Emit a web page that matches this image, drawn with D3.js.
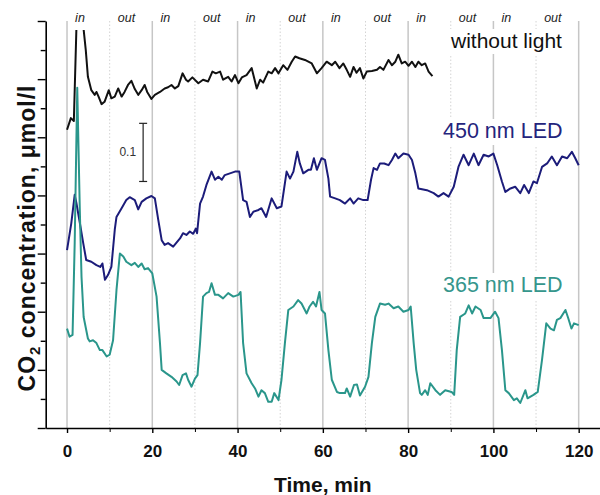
<!DOCTYPE html>
<html>
<head>
<meta charset="utf-8">
<script src="https://cdn.jsdelivr.net/npm/d3@7"></script>
<style>
  body { margin: 0; background: #fff; }
  svg { font-family: "Liberation Sans", Arial, sans-serif; }
</style>
</head>
<body>
<svg id="chart" width="600" height="495"></svg>
<script>
// CO2 concentration vs time, three runs (values in umol/l, curves offset)

// without light
const tDark = [0, 0.9, 1.6, 2.4, 3.0, 3.6, 3.9, 4.4, 4.9, 5.7, 6.5, 6.9, 7.4, 8.1, 8.8, 9.8, 10.4, 11.2, 12.0, 12.8,
  13.5, 14.3, 15.1, 15.9, 16.7, 17.5, 18.2, 18.8, 19.8, 20.6, 21.8, 22.9, 23.7, 24.5, 25.3, 26.1, 27.1, 27.9, 28.4, 29.4,
  30.8, 31.9, 33.1, 34.1, 34.9, 35.9, 36.6, 37.8, 38.6, 39.4, 40.2, 41.0, 42.1, 43.3, 44.5, 45.3, 46.0, 47.2, 48.0, 48.8,
  49.6, 50.7, 51.7, 52.7, 53.5, 54.5, 55.8, 57.4, 58.6, 59.7, 60.9, 62.1, 62.9, 63.9, 64.8, 65.6, 66.4, 67.2, 67.9, 68.7,
  69.5, 70.3, 71.5, 72.7, 73.4, 74.2, 75.4, 76.2, 77.0, 77.7, 78.5, 79.3, 80.1, 80.9, 81.7, 82.4, 83.2, 84.0, 84.8, 85.7];
const cDark = [0.513, 0.533, 0.528, 0.74, 0.80, 0.74, 0.685, 0.650, 0.604, 0.581, 0.573, 0.578, 0.570, 0.557, 0.561, 0.581, 0.567, 0.570, 0.584, 0.570,
  0.578, 0.590, 0.597, 0.583, 0.573, 0.581, 0.590, 0.578, 0.566, 0.573, 0.578, 0.584, 0.586, 0.590, 0.584, 0.588, 0.610, 0.599, 0.596, 0.603,
  0.593, 0.599, 0.596, 0.613, 0.610, 0.613, 0.599, 0.604, 0.596, 0.607, 0.593, 0.603, 0.607, 0.619, 0.584, 0.599, 0.594, 0.613, 0.610, 0.619,
  0.610, 0.624, 0.616, 0.630, 0.639, 0.636, 0.633, 0.627, 0.610, 0.619, 0.630, 0.624, 0.630, 0.619, 0.627, 0.616, 0.604, 0.621, 0.611, 0.619,
  0.601, 0.613, 0.614, 0.616, 0.621, 0.616, 0.633, 0.624, 0.630, 0.642, 0.627, 0.630, 0.623, 0.630, 0.621, 0.630, 0.624, 0.627, 0.613, 0.605];

// 450 nm LED
const tBlue = [0, 1.0, 1.8, 2.2, 3.0, 3.8, 4.5, 5.7, 6.9, 7.8, 8.3, 8.9, 9.6, 10.4, 11.2, 11.6, 12.8, 13.9, 14.7, 15.9,
  16.7, 17.5, 18.6, 19.8, 20.6, 21.4, 22.2, 22.9, 23.7, 24.9, 26.5, 27.2, 28.0, 28.8, 29.6, 30.2, 30.5, 31.2, 31.9, 32.7,
  33.9, 34.7, 35.5, 36.3, 37.0, 38.2, 39.4, 40.4, 41.3, 42.1, 42.9, 43.7, 44.9, 45.6, 46.7, 48.0, 49.2, 50.3, 51.5, 52.3,
  53.1, 54.0, 54.6, 55.4, 56.6, 57.2, 57.9, 58.6, 59.7, 60.5, 61.3, 61.7, 62.9, 64.0, 65.2, 66.4, 67.2, 68.3, 69.5, 70.5,
  71.3, 71.9, 72.7, 73.4, 74.4, 75.4, 76.2, 77.0, 77.7, 78.9, 80.1, 80.9, 81.7, 82.4, 84.4, 86.0, 87.1, 88.3, 89.5, 90.7,
  91.8, 93.0, 94.2, 95.4, 96.5, 97.7, 98.9, 100.0, 100.9, 102.0, 102.8, 104.0, 105.1, 106.3, 107.2, 108.3, 109.4, 110.2, 111.4, 112.6,
  113.7, 114.9, 116.1, 117.3, 118.4, 119.2, 120.0];
const cBlue = [0.306, 0.352, 0.401, 0.387, 0.353, 0.318, 0.289, 0.286, 0.280, 0.277, 0.283, 0.255, 0.263, 0.277, 0.341, 0.363, 0.378, 0.392, 0.397, 0.392,
  0.376, 0.389, 0.395, 0.399, 0.395, 0.358, 0.323, 0.315, 0.318, 0.312, 0.326, 0.335, 0.332, 0.338, 0.334, 0.343, 0.335, 0.386, 0.398, 0.418,
  0.441, 0.427, 0.432, 0.427, 0.435, 0.438, 0.441, 0.441, 0.392, 0.389, 0.363, 0.372, 0.375, 0.378, 0.363, 0.395, 0.378, 0.381, 0.441, 0.429,
  0.441, 0.475, 0.455, 0.438, 0.444, 0.444, 0.464, 0.444, 0.464, 0.461, 0.429, 0.398, 0.395, 0.392, 0.386, 0.395, 0.386, 0.395, 0.392, 0.392,
  0.427, 0.447, 0.444, 0.455, 0.455, 0.452, 0.461, 0.472, 0.464, 0.472, 0.470, 0.461, 0.438, 0.412, 0.409, 0.404, 0.398, 0.404, 0.398, 0.415,
  0.449, 0.470, 0.452, 0.472, 0.452, 0.470, 0.467, 0.472, 0.452, 0.424, 0.406, 0.412, 0.415, 0.404, 0.418, 0.404, 0.424, 0.421, 0.449, 0.455,
  0.467, 0.452, 0.467, 0.464, 0.475, 0.464, 0.452];

// 365 nm LED
const tTeal = [0, 0.6, 1.3, 1.8, 2.4, 3.0, 3.4, 3.9, 4.9, 5.3, 6.1, 6.9, 7.7, 8.3, 9.3, 10.0, 10.8, 11.6, 12.4, 13.2,
  13.9, 15.1, 15.9, 16.7, 17.5, 18.2, 19.0, 20.0, 21.0, 21.8, 22.2, 23.3, 24.5, 25.7, 26.3, 27.1, 27.9, 28.4, 29.2, 30.0,
  30.6, 31.2, 31.9, 32.7, 33.3, 33.9, 34.7, 35.5, 36.6, 37.8, 39.0, 40.2, 40.7, 41.3, 42.1, 43.3, 44.1, 44.9, 45.6, 46.4,
  47.2, 48.0, 48.6, 49.6, 50.3, 51.1, 51.9, 53.1, 54.2, 55.0, 56.2, 56.9, 57.7, 58.4, 59.2, 59.7, 60.5, 61.3, 62.1, 63.3,
  64.0, 65.2, 65.6, 66.4, 67.3, 68.0, 68.7, 69.9, 70.7, 71.5, 72.3, 73.4, 74.6, 75.4, 76.6, 77.7, 78.9, 80.1, 80.6, 81.3,
  81.9, 82.8, 83.2, 84.0, 84.6, 85.2, 86.4, 87.5, 88.7, 90.2, 90.8, 91.4, 92.2, 93.4, 94.2, 95.0, 95.8, 97.0, 97.7, 99.3,
  100.4, 101.2, 102.0, 102.8, 103.6, 104.8, 105.5, 106.3, 107.5, 108.0, 109.4, 110.4, 111.4, 112.4, 113.4, 114.2, 114.9, 115.7, 116.9, 117.5,
  118.3, 118.9, 120.0];
const cTeal = [0.171, 0.157, 0.160, 0.318, 0.585, 0.375, 0.260, 0.191, 0.154, 0.149, 0.151, 0.146, 0.134, 0.134, 0.123, 0.126, 0.151, 0.237, 0.300, 0.295,
  0.286, 0.280, 0.284, 0.277, 0.283, 0.273, 0.275, 0.266, 0.226, 0.146, 0.100, 0.094, 0.088, 0.080, 0.074, 0.091, 0.094, 0.083, 0.071, 0.085,
  0.091, 0.146, 0.226, 0.232, 0.234, 0.249, 0.229, 0.229, 0.223, 0.232, 0.226, 0.229, 0.234, 0.146, 0.094, 0.077, 0.068, 0.054, 0.065, 0.060,
  0.045, 0.045, 0.060, 0.048, 0.083, 0.146, 0.203, 0.209, 0.220, 0.214, 0.197, 0.209, 0.217, 0.209, 0.234, 0.203, 0.197, 0.134, 0.083, 0.062,
  0.060, 0.060, 0.068, 0.054, 0.074, 0.075, 0.056, 0.071, 0.088, 0.146, 0.191, 0.214, 0.212, 0.214, 0.206, 0.209, 0.200, 0.203, 0.209, 0.146,
  0.100, 0.060, 0.057, 0.065, 0.057, 0.077, 0.065, 0.057, 0.065, 0.062, 0.057, 0.134, 0.191, 0.197, 0.211, 0.197, 0.209, 0.203, 0.189, 0.189,
  0.200, 0.189, 0.134, 0.065, 0.060, 0.048, 0.051, 0.043, 0.065, 0.051, 0.057, 0.062, 0.117, 0.180, 0.171, 0.168, 0.186, 0.189, 0.203, 0.190,
  0.171, 0.180, 0.177];

// light on/off phases, 10 min each
const phaseStarts = [0, 10, 20, 30, 40, 50, 60, 70, 80, 90, 100, 110];
const phaseNames = ["in", "out", "in", "out", "in", "out", "in", "out", "in", "out", "in", "out"];

const xTicks = [0, 20, 40, 60, 80, 100, 120];

const svg = d3.select("#chart");

const x = d3.scaleLinear().domain([-5, 125]).range([45.7, 600]);
const y = d3.scaleLinear().domain([0, 0.7]).range([428, 21]);

svg.append("defs").append("clipPath").attr("id", "plotclip")
  .append("rect")
  .attr("x", x(-5)).attr("y", y(0.7))
  .attr("width", x(125) - x(-5)).attr("height", y(0) - y(0.7));

// vertical grid lines at the phase borders
svg.append("g")
  .selectAll("line")
  .data(d3.range(0, 121, 10))
  .enter()
  .append("line")
  .attr("x1", (d) => x(d)).attr("x2", (d) => x(d))
  .attr("y1", y(0.7)).attr("y2", y(0))
  .attr("stroke", (d) => (d % 20 === 0 ? "#c6c6c6" : "#d4d4d4"))
  .attr("stroke-width", (d) => (d % 20 === 0 ? 1.5 : 1))
  .attr("stroke-dasharray", (d) => (d % 20 === 0 ? null : "1.5,2"));

// curves
const line = d3.line().x((d) => x(d[0])).y((d) => y(d[1]));
const series = [
  { t: tDark, c: cDark, color: "#111111" },
  { t: tBlue, c: cBlue, color: "#1c1c7a" },
  { t: tTeal, c: cTeal, color: "#2a968b" },
];
const plot = svg.append("g").attr("clip-path", "url(#plotclip)");
series.forEach((s) => {
  plot.append("path")
    .datum(d3.zip(s.t, s.c))
    .attr("fill", "none")
    .attr("stroke", s.color)
    .attr("stroke-width", 2)
    .attr("stroke-linejoin", "round")
    .attr("d", line);
});

// text with a white box behind it
function boxedText(g, px, py, str, size, color, style) {
  const grp = g.append("g");
  const txt = grp.append("text")
    .attr("x", px).attr("y", py)
    .attr("font-size", size)
    .attr("font-style", style || "normal")
    .attr("fill", color)
    .text(str);
  const bb = txt.node().getBBox();
  grp.insert("rect", "text")
    .attr("x", bb.x - 2).attr("y", bb.y)
    .attr("width", bb.width + 4).attr("height", bb.height + 2)
    .attr("fill", "#fff");
  return grp;
}

const labels = svg.append("g");
phaseStarts.forEach((p, i) => {
  const g = boxedText(labels, x(p + 1.9), 22, phaseNames[i], 12.5, "#222", "italic");
  g.select("rect").attr("y", 9).attr("height", 21);
});

boxedText(labels, 451, 48, "without light", 21, "#111");
boxedText(labels, 443, 138, "450 nm LED", 21.5, "#24247c");
boxedText(labels, 443, 292, "365 nm LED", 21.5, "#35968c");

// 0.1 scale bar
const barT = 17.85;
const bar = svg.append("g").attr("stroke", "#222").attr("stroke-width", 1.2);
bar.append("line").attr("x1", x(barT)).attr("x2", x(barT)).attr("y1", y(0.524)).attr("y2", y(0.424));
[0.524, 0.424].forEach((v) => {
  bar.append("line").attr("x1", x(barT) - 4).attr("x2", x(barT) + 4).attr("y1", y(v)).attr("y2", y(v));
});
svg.append("text")
  .attr("x", x(barT) - 7).attr("y", y(0.474) + 4)
  .attr("text-anchor", "end")
  .attr("font-size", 12)
  .attr("fill", "#333")
  .text("0.1");

// axes
const xAxisMinor = d3.axisBottom(x).tickValues([10, 30, 50, 70, 90, 110]).tickSize(4).tickFormat("");
const xAxis = d3.axisBottom(x).tickValues(xTicks).tickSize(5).tickSizeOuter(0).tickPadding(12);
svg.append("g").attr("transform", `translate(0,${y(0)})`).call(xAxisMinor)
  .call((g) => g.select(".domain").remove());
const gx = svg.append("g").attr("transform", `translate(0,${y(0)})`).call(xAxis);
gx.select(".domain").attr("stroke-width", 1.6);
gx.selectAll(".tick line").attr("stroke-width", 1.4);
gx.selectAll("text")
  .attr("font-family", "Liberation Sans, Arial, sans-serif")
  .attr("font-size", 17).attr("font-weight", "bold").attr("fill", "#111");

const yMajor = d3.axisLeft(y).tickValues(d3.range(0, 0.71, 0.1)).tickSize(8).tickSizeOuter(0).tickFormat("");
const yMinor = d3.axisLeft(y).tickValues(d3.range(0.05, 0.7, 0.1)).tickSize(5).tickFormat("");
svg.append("g").attr("transform", `translate(${x(-5)},0)`).call(yMinor)
  .call((g) => g.select(".domain").remove())
  .selectAll(".tick line").attr("stroke-width", 1.4);
const gy = svg.append("g").attr("transform", `translate(${x(-5)},0)`).call(yMajor);
gy.select(".domain").attr("stroke-width", 1.6);
gy.selectAll(".tick line").attr("stroke-width", 1.4);

// axis titles
svg.append("text")
  .attr("x", (x(-5) + x(125)) / 2).attr("y", 492)
  .attr("text-anchor", "middle")
  .attr("font-size", 21).attr("font-weight", "bold").attr("fill", "#111")
  .text("Time, min");

const ylab = svg.append("text")
  .attr("transform", "translate(35,238) rotate(-90)")
  .attr("text-anchor", "middle")
  .attr("font-size", 23).attr("font-weight", "bold").attr("fill", "#111")
  .attr("letter-spacing", 1);
ylab.append("tspan").text("CO");
ylab.append("tspan").attr("font-size", 15).attr("dy", 5).text("2");
ylab.append("tspan").attr("dy", -5).text(" concentration, \u03bcmol/l");
</script>
</body>
</html>
